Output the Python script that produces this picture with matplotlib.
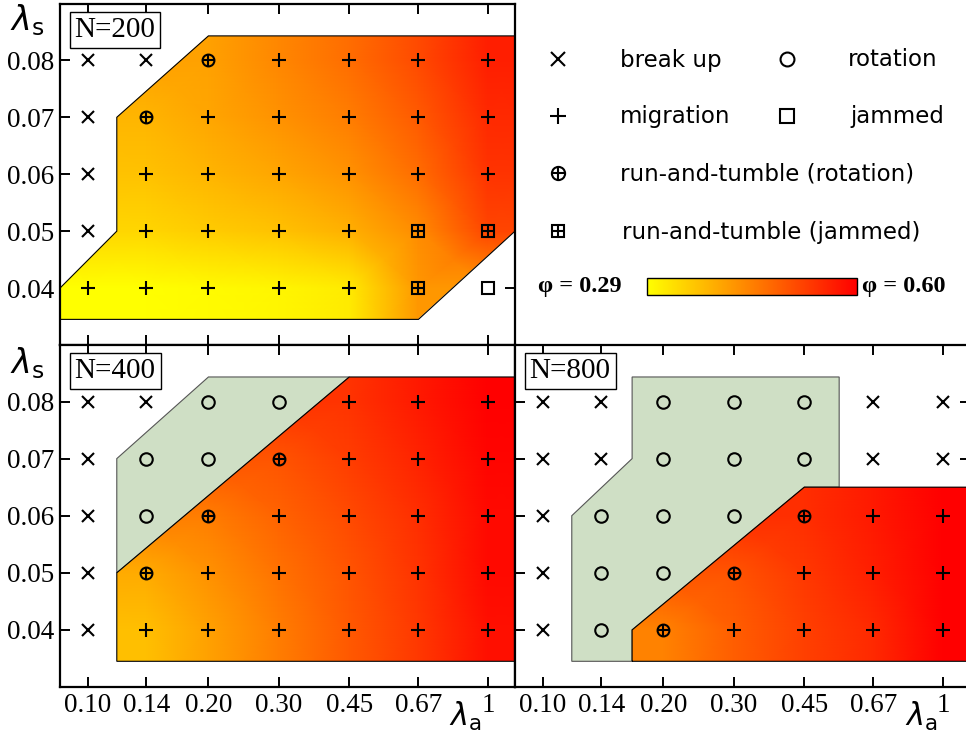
import numpy as np
import pandas as pd
import matplotlib
matplotlib.use("Agg")
import matplotlib.pyplot as plt
from matplotlib.patches import Polygon
from matplotlib.ticker import NullLocator
from matplotlib.cm import ScalarMappable
from matplotlib.colors import Normalize

nan = np.nan

lam_a = [0.10, 0.14, 0.20, 0.30, 0.45, 0.67, 1.0]
lam_a_labels = ["0.10", "0.14", "0.20", "0.30", "0.45", "0.67", "1"]
lam_s = [0.08, 0.07, 0.06, 0.05, 0.04]  # rows top to bottom
lam_s_labels = ["0.08", "0.07", "0.06", "0.05", "0.04"]

# X break up, M migration, R rotation, J jammed,
# TR run-and-tumble (rotation), TJ run-and-tumble (jammed)
states_200 = [
    "X X TR M M M M",
    "X TR M M M M M",
    "X M M M M M M",
    "X M M M M TJ TJ",
    "M M M M M TJ J",
]
states_400 = [
    "X X R R M M M",
    "X R R TR M M M",
    "X R TR M M M M",
    "X TR M M M M M",
    "X M M M M M M",
]
states_800 = [
    "X X R R R X X",
    "X X R R R X X",
    "X R R R TR M M",
    "X R R TR M M M",
    "X R TR M M M M",
]

# packing fraction phi read from the colour shading (nan = not in that region)
phi_200 = [
    [nan, nan, 0.405, 0.436, 0.467, 0.510, 0.563],
    [nan, 0.380, 0.398, 0.423, 0.448, 0.491, 0.550],
    [nan, 0.364, 0.380, 0.398, 0.423, 0.467, 0.538],
    [nan, 0.340, 0.352, 0.364, 0.386, 0.430, 0.516],
    [0.290, 0.290, 0.296, 0.302, 0.315, 0.417, nan],
]
phi_400 = [
    [nan, nan, nan, nan, 0.538, 0.569, 0.600],
    [nan, nan, nan, 0.498, 0.526, 0.557, 0.594],
    [nan, nan, 0.448, 0.479, 0.510, 0.544, 0.588],
    [nan, 0.392, 0.423, 0.461, 0.498, 0.538, 0.588],
    [nan, 0.368, 0.405, 0.448, 0.492, 0.532, 0.581],
]
phi_800 = [
    [nan, nan, nan, nan, nan, nan, nan],
    [nan, nan, nan, nan, nan, nan, nan],
    [nan, nan, nan, nan, 0.544, 0.569, 0.600],
    [nan, nan, nan, 0.498, 0.532, 0.563, 0.600],
    [nan, nan, 0.442, 0.485, 0.522, 0.550, 0.600],
]
phi_min, phi_max = 0.29, 0.60

xlo, xhi = 0.0851, 1.168
ylo, yhi = 0.030, 0.0899

# region boundaries (lambda_a, lambda_s)
red_200 = [(xlo, 0.0345), (xlo, 0.04), (0.118, 0.05), (0.118, 0.07), (0.20, 0.0843),
           (xhi, 0.0843), (xhi, 0.05), (0.67, 0.0345)]
green_400 = [(0.118, 0.05), (0.118, 0.07), (0.20, 0.0843), (0.45, 0.0843)]
red_400 = [(0.118, 0.0345), (0.118, 0.05), (0.45, 0.0843), (xhi, 0.0843), (xhi, 0.0345)]
green_800 = [(0.118, 0.0345), (0.118, 0.06), (0.167, 0.07), (0.167, 0.0843), (0.55, 0.0843),
             (0.55, 0.065), (0.45, 0.065), (0.167, 0.04), (0.167, 0.0345)]
red_800 = [(0.167, 0.0345), (0.167, 0.04), (0.45, 0.065), (xhi, 0.065), (xhi, 0.0345)]

W, H = 966, 734
green = "#cfdfc5"
cmap = "autumn_r"
serif = "Liberation Serif"


def px(x, y):
    return x / W, 1 - y / H


def marker(ax, x, y, code, ms=9):
    kw = dict(color="black", mew=1.5, linestyle="none", zorder=5)
    if code == "X":
        ax.plot(x, y, marker="x", ms=ms, **kw)
    elif code == "M":
        ax.plot(x, y, marker="+", ms=ms + 1, **kw)
    elif code == "R":
        ax.plot(x, y, marker="o", ms=ms, mfc="none", **kw)
    elif code == "J":
        ax.plot(x, y, marker="s", ms=ms, mfc="none", **kw)
    elif code == "TR":
        ax.plot(x, y, marker="o", ms=ms - 0.5, mfc="none", **kw)
        ax.plot(x, y, marker="+", ms=ms - 0.5, **kw)
    elif code == "TJ":
        ax.plot(x, y, marker="s", ms=ms - 1, mfc="none", **kw)
        ax.plot(x, y, marker="+", ms=ms - 1, **kw)


def shade(ax, phi, poly):
    df = pd.DataFrame(np.array(phi)[::-1])
    df = df.bfill(axis=1).ffill(axis=1).ffill(axis=0).bfill(axis=0)
    c = np.pad(df.values, 1, mode="edge")
    xs = [xlo] + lam_a + [xhi]
    ys = [ylo] + lam_s[::-1] + [yhi]
    X, Y = np.meshgrid(xs, ys)
    mesh = ax.pcolormesh(X, Y, c, shading="gouraud", cmap=cmap,
                         vmin=phi_min, vmax=phi_max, zorder=2)
    patch = Polygon(poly, closed=True, fc="none", ec="black", lw=0.8, zorder=3)
    ax.add_patch(patch)
    mesh.set_clip_path(patch)


def panel(rect, states, phi, red, green_poly, nlabel, xlabels, ylabels):
    ax = fig.add_axes(rect)
    ax.set_xscale("log")
    if green_poly is not None:
        ax.add_patch(Polygon(green_poly, closed=True, fc=green, ec="#555555",
                             lw=0.8, zorder=1))
    shade(ax, phi, red)
    for j, row in enumerate(states):
        for i, code in enumerate(row.split()):
            marker(ax, lam_a[i], lam_s[j], code)
    ax.set_xlim(xlo, xhi)
    ax.set_ylim(ylo, yhi)
    ax.set_xticks(lam_a)
    ax.xaxis.set_minor_locator(NullLocator())
    ax.set_xticklabels(lam_a_labels if xlabels else [])
    ax.set_yticks(lam_s)
    ax.set_yticklabels(lam_s_labels if ylabels else [])
    ax.tick_params(direction="in", length=7, width=1.4, top=True, right=True,
                   labelsize=19.5, labelfontfamily=serif, pad=4)
    for s in ax.spines.values():
        s.set_linewidth(1.6)
    ax.text(0.121, 0.925, nlabel, transform=ax.transAxes, ha="center", va="center",
            fontsize=21, family=serif,
            bbox=dict(boxstyle="square,pad=0.17", fc="white", ec="black", lw=1))
    return ax


fig = plt.figure(figsize=(W / 100, H / 100), dpi=100)

panel([60 / W, 1 - 345 / H, 455 / W, 341 / H], states_200, phi_200, red_200, None,
      "N=200", False, True)
panel([60 / W, 1 - 687 / H, 455 / W, 342 / H], states_400, phi_400, red_400, green_400,
      "N=400", True, True)
panel([515 / W, 1 - 687 / H, 455 / W, 342 / H], states_800, phi_800, red_800, green_800,
      "N=800", True, False)

# axis labels
for y in (20, 363):
    fig.text(*px(27, y), r"$\lambda_\mathrm{s}$", ha="center", va="center", fontsize=24)
for x in (465, 921):
    fig.text(*px(x, 716), r"$\lambda_\mathrm{a}$", ha="center", va="center", fontsize=22)

# legend
leg = [
    ("X", 558, 59, "break up", 620),
    ("R", 787, 59, "rotation", 848),
    ("M", 558, 116, "migration", 620),
    ("J", 787, 116, "jammed", 850),
    ("TR", 558, 173, "run-and-tumble (rotation)", 620),
    ("TJ", 558, 231, "run-and-tumble (jammed)", 622),
]
lax = fig.add_axes([0, 0, 1, 1], facecolor="none")
lax.set_xlim(0, W)
lax.set_ylim(H, 0)
lax.axis("off")
for code, mx, my, label, tx in leg:
    marker(lax, mx, my, code, ms=10)
    lax.text(tx, my + 1, label, ha="left", va="center", fontsize=16.5)

cax = fig.add_axes([647 / W, 1 - 295 / H, 210 / W, 17 / H])
cb = fig.colorbar(ScalarMappable(Normalize(phi_min, phi_max), cmap), cax=cax,
                  orientation="horizontal", ticks=[])
cb.outline.set_linewidth(1)
for x, val in ((538, phi_min), (862, phi_max)):
    fig.text(*px(x, 287), "\u03c6 = %.2f" % val, ha="left", va="center",
             fontsize=17.5, family=serif, weight="bold")

fig.savefig("out.png", dpi=100)
